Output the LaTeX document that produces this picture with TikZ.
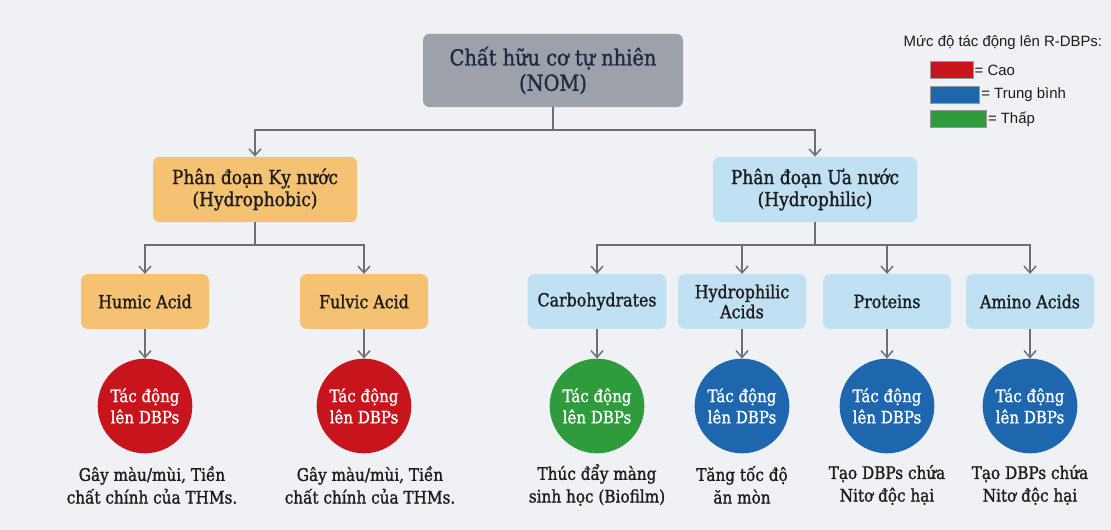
\documentclass[tikz,border=0pt]{standalone}
\usepackage{fontspec}
\setmainfont{DejaVu Serif}[FakeStretch=0.88, FakeBold=1.3]
\newfontfamily\legendfont{Liberation Sans}
\usetikzlibrary{arrows.meta}
\definecolor{bgc}{HTML}{EFF1F4}
\definecolor{nomc}{HTML}{9DA2AA}
\definecolor{navy}{HTML}{1E2B42}
\definecolor{orangec}{HTML}{F5C173}
\definecolor{bluec}{HTML}{C0E0F4}
\definecolor{linec}{HTML}{6A6F78}
\definecolor{redc}{HTML}{C8141C}
\definecolor{greenc}{HTML}{2E9C3C}
\definecolor{midblue}{HTML}{1E67AF}
\definecolor{txt}{HTML}{1C1C1C}
\tikzset{
  box/.style={rounded corners=5pt, inner sep=0pt, align=center, text=txt},
  topbox/.style={box, fill=nomc, text=navy, minimum width=195pt, minimum height=55pt, font=\fontsize{16.5}{19}\selectfont},
  fracbox/.style={box, minimum width=153pt, minimum height=49pt, font=\fontsize{14.5}{16.5}\selectfont},
  leafbox/.style={box, minimum width=96pt, minimum height=41pt, font=\fontsize{13.5}{15}\selectfont},
  impact/.style={circle, minimum size=71pt, inner sep=0pt, align=center, text=white, font=\fontsize{12.8}{16}\selectfont},
  note/.style={align=center, text=txt, font=\fontsize{13}{17}\selectfont},
  conn/.style={draw=linec, line width=1.1pt},
  arr/.style={conn, -{Straight Barb[length=5pt,width=9pt,line width=1.1pt]}},
  swatch/.style={draw=black!40, line width=0.3pt, inner sep=0pt, minimum height=13pt},
  legtext/.style={font=\legendfont\fontsize{11.2}{13}\selectfont, text=txt},
}
\begin{document}
\begin{tikzpicture}[x=0.75pt,y=-0.75pt]
\fill[bgc] (0,0) rectangle (1111,530);
\useasboundingbox (0,0) rectangle (1111,530);

% top
\node[topbox] (nom) at (553,70.5) {Chất hữu cơ tự nhiên\\(NOM)};
% fractions
\node[fracbox, fill=orangec] (hpo) at (255,189.5) {Phân đoạn Kỵ nước\\(Hydrophobic)};
\node[fracbox, fill=bluec] (hpi) at (815,189.5) {Phân đoạn Ưa nước\\(Hydrophilic)};
% leaves
\node[leafbox, fill=orangec] (hum) at (145,301.5) {Humic Acid};
\node[leafbox, fill=orangec] (ful) at (364,301.5) {Fulvic Acid};
\node[leafbox, fill=bluec, minimum width=104pt] (car) at (597,301.5) {Carbohydrates};
\node[leafbox, fill=bluec] (hac) at (742,301.5) {Hydrophilic\\Acids};
\node[leafbox, fill=bluec] (pro) at (887,301.5) {Proteins};
\node[leafbox, fill=bluec] (ami) at (1030,301.5) {Amino Acids};
% circles
\node[impact, fill=redc] (c1) at (145,406) {Tác động\\lên DBPs};
\node[impact, fill=redc] (c2) at (364,406) {Tác động\\lên DBPs};
\node[impact, fill=greenc] (c3) at (597,406) {Tác động\\lên DBPs};
\node[impact, fill=midblue] (c4) at (742,406) {Tác động\\lên DBPs};
\node[impact, fill=midblue] (c5) at (887,406) {Tác động\\lên DBPs};
\node[impact, fill=midblue] (c6) at (1030,406) {Tác động\\lên DBPs};
% notes
\node[note] (n1) at (152,485) {Gây màu/mùi, Tiền\\chất chính của THMs.};
\node[note] (n2) at (370,485) {Gây màu/mùi, Tiền\\chất chính của THMs.};
\node[note] (n3) at (597,485) {Thúc đẩy màng\\sinh học (Biofilm)};
\node[note] (n4) at (742,485) {Tăng tốc độ\\ăn mòn};
\node[note] (n5) at (887,485) {Tạo DBPs chứa\\Nitơ độc hại};
\node[note] (n6) at (1030,485) {Tạo DBPs chứa\\Nitơ độc hại};

% connectors
\coordinate (j0) at (553,130);
\coordinate (j1) at (255,245);
\coordinate (j2) at (815,245);
\draw[conn] (nom.south) -- (j0);
\draw[arr] (j0) -| (hpo.north);
\draw[arr] (j0) -| (hpi.north);
\draw[conn] (hpo.south) -- (j1);
\draw[arr] (j1) -| (hum.north);
\draw[arr] (j1) -| (ful.north);
\draw[conn] (hpi.south) -- (j2);
\draw[arr] (j2) -| (car.north);
\draw[arr] (j2) -| (hac.north);
\draw[arr] (j2) -| (pro.north);
\draw[arr] (j2) -| (ami.north);
\foreach \a/\b in {hum/c1,ful/c2,car/c3,hac/c4,pro/c5,ami/c6}
  \draw[arr] (\a.south) -- (\b.north);

% legend
\node[anchor=west, legtext] (lt) at (899,43) {Mức độ tác động lên R-DBPs:};
\node[swatch, fill=redc, minimum width=32pt, anchor=west] (s1) at (930,70) {};
\node[swatch, fill=midblue, minimum width=37pt, anchor=west] (s2) at (930,95) {};
\node[swatch, fill=greenc, minimum width=42pt, anchor=west] (s3) at (930,119) {};
\node[anchor=west, legtext, inner sep=1pt] (l1) at (s1.east) {= Cao};
\node[anchor=west, legtext, inner sep=1pt] (l2) at (s2.east) {= Trung bình};
\node[anchor=west, legtext, inner sep=1pt] (l3) at (s3.east) {= Thấp};
\end{tikzpicture}
\end{document}
